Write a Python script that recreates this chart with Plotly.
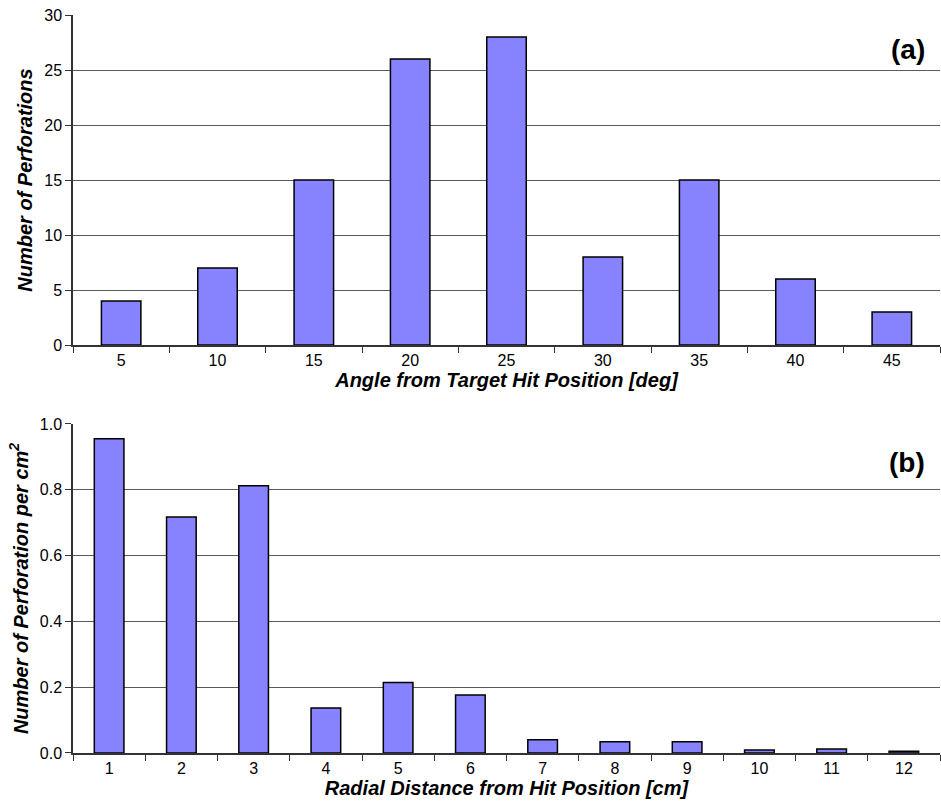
import plotly.graph_objects as go

# Panel (a): perforation counts by angle from the target hit position
angle_deg = ["5", "10", "15", "20", "25", "30", "35", "40", "45"]
perforations = [4, 7, 15, 26, 28, 8, 15, 6, 3]

# Panel (b): perforation density by radial distance from the hit position
radial_cm = ["1", "2", "3", "4", "5", "6", "7", "8", "9", "10", "11", "12"]
density = [0.955, 0.717, 0.812, 0.137, 0.214, 0.176, 0.040, 0.034, 0.034, 0.009, 0.012, 0.005]

FONT = "Arial, Liberation Sans, sans-serif"
BAR_FILL = "#8783FF"
GRID = "#5a5a5a"

fig = go.Figure()
fig.add_trace(go.Bar(x=angle_deg, y=perforations, xaxis="x", yaxis="y",
                     marker=dict(color=BAR_FILL, line=dict(color="black", width=1.5)),
                     width=0.41, showlegend=False))
fig.add_trace(go.Bar(x=radial_cm, y=density, xaxis="x2", yaxis="y2",
                     marker=dict(color=BAR_FILL, line=dict(color="black", width=1.5)),
                     width=0.41, showlegend=False))

xcommon = dict(type="category", tickson="boundaries", ticks="outside", ticklen=6,
               tickcolor="#333", showline=True, linecolor="#333", linewidth=1.5,
               showgrid=False, tickfont=dict(family=FONT, size=16, color="black"),
               title_font=dict(family=FONT, size=20, color="black"), title_standoff=4)
ycommon = dict(ticks="outside", ticklen=6, tickcolor="#333", showline=True,
               linecolor="#333", linewidth=1.5, showgrid=True, gridcolor=GRID,
               gridwidth=1.2, zeroline=False,
               tickfont=dict(family=FONT, size=16, color="black"),
               title_font=dict(family=FONT, size=20, color="black"), title_standoff=6)

fig.update_layout(
    width=941, height=810,
    margin=dict(l=73, r=1, t=15, b=57),
    plot_bgcolor="white", paper_bgcolor="white",
    bargap=0.59,
    xaxis=dict(xcommon, anchor="y", domain=[0, 1],
               title_text="<b><i>Angle from Target Hit Position [deg]</i></b>"),
    yaxis=dict(ycommon, anchor="x", domain=[0.5528, 1.0], range=[0, 30], dtick=5,
               title_text="<b><i>Number of Perforations</i></b>"),
    xaxis2=dict(xcommon, anchor="y2", domain=[0, 1],
                title_text="<b><i>Radial Distance from Hit Position [cm]</i></b>"),
    yaxis2=dict(ycommon, anchor="x2", domain=[0, 0.4458], range=[0, 1.0], dtick=0.2,
                tickformat=".1f",
                title_text="<b><i>Number of Perforation per cm<sup>2</sup></i></b>"),
    annotations=[
        dict(text="<b>(a)</b>", xref="x domain", yref="y domain", x=0.985, y=0.894,
             xanchor="right", yanchor="middle", showarrow=False,
             font=dict(family=FONT, size=28, color="black")),
        dict(text="<b>(b)</b>", xref="x2 domain", yref="y2 domain", x=0.985, y=0.884,
             xanchor="right", yanchor="middle", showarrow=False,
             font=dict(family=FONT, size=28, color="black")),
    ],
)

fig.write_html("out.html")
